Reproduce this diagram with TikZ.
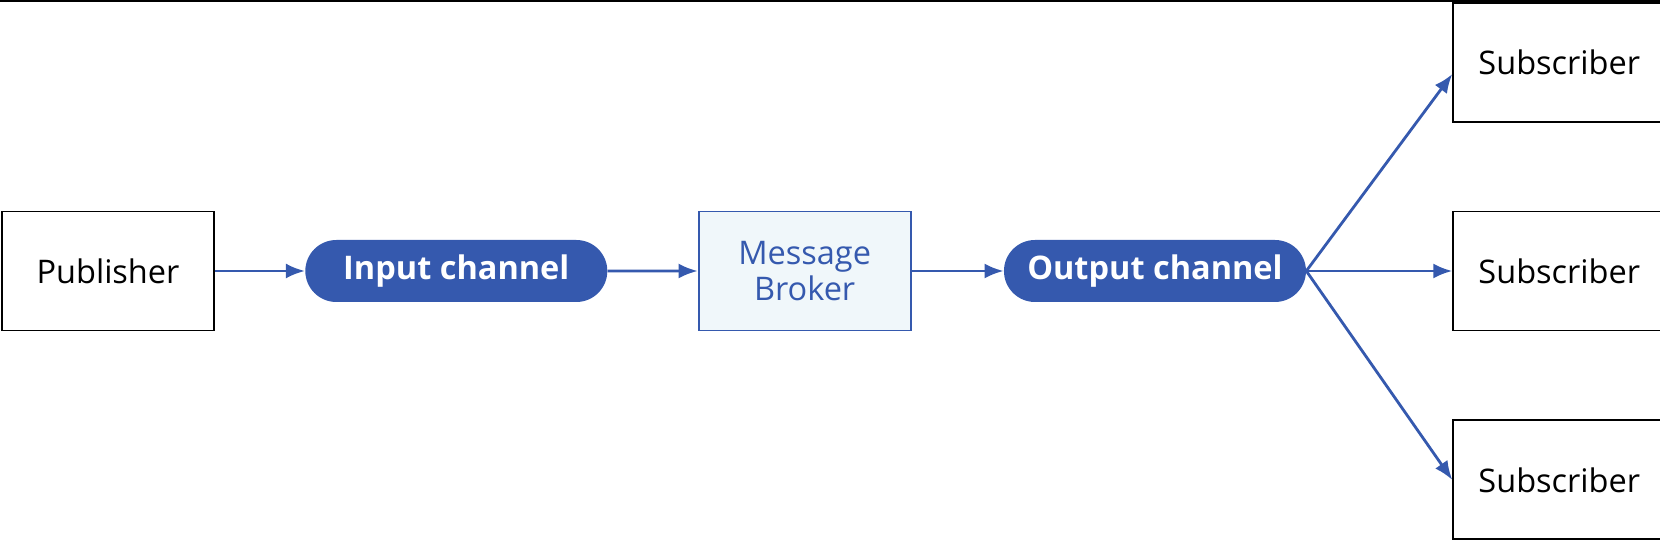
\documentclass[tikz,border=0pt]{standalone}
\usepackage{fontspec}
\setmainfont{Open Sans}
\usepackage{xcolor}
\usepackage{tikz}
\usetikzlibrary{positioning,arrows.meta,shapes.misc}
\definecolor{busblue}{RGB}{53,89,174}
\definecolor{brokerfill}{RGB}{240,247,250}

\begin{document}
\begin{tikzpicture}[font=\fontsize{18.5}{20}\selectfont,node distance=1.8cm,
  box/.style={draw=#1,line width=1.1pt,align=center,minimum width=4.24cm,minimum height=2.38cm,inner sep=0pt},
  box/.default=black,
  chan/.style={rounded rectangle,fill=busblue,text=white,font=\fontsize{18.5}{20}\selectfont\bfseries,minimum width=6.04cm,minimum height=1.24cm,inner sep=0pt},
  flow/.style={draw=busblue,line width=1.6pt,-{Latex[length=0.38cm,width=0.3cm]}}]
\useasboundingbox (-2.16,-5.38) rectangle (31.04,5.42);
\draw[line width=1.1pt] (-2.16,5.40) -- (31.04,5.40);
\node[box] (pub) at (0,0) {Publisher};
\node[chan,right=of pub] (inch) {Input channel};
\node[box=busblue,fill=brokerfill,text=busblue,right=of inch] (broker) {Message\\Broker};
\node[chan,right=1.84cm of broker] (outch) {Output channel};
\node[box,right=2.92cm of outch] (sub2) {Subscriber};
\node[box,above=1.76cm of sub2] (sub1) {Subscriber};
\node[box,below=1.76cm of sub2] (sub3) {Subscriber};
\foreach \a/\b in {pub/inch,inch/broker,broker/outch} \draw[flow] (\a) -- (\b);
\draw[flow] (outch.east) -- ([yshift=-0.24cm]sub1.west);
\draw[flow] (outch.east) -- (sub2.west);
\draw[flow] (outch.east) -- (sub3.west);
\end{tikzpicture}
\end{document}
